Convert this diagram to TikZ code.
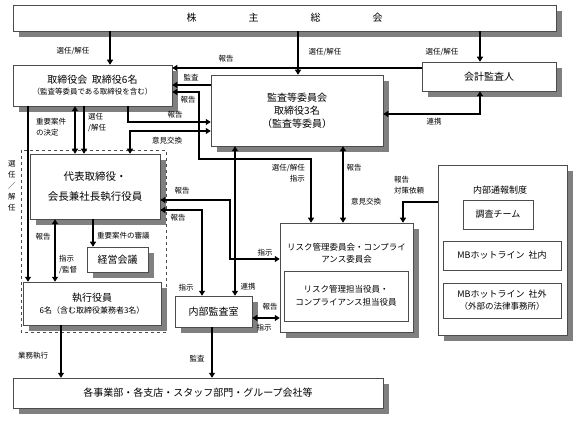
\documentclass[tikz,border=0pt]{standalone}
\usepackage{fontspec}
\setmainfont{Noto Sans CJK JP}
\usetikzlibrary{arrows.meta}
\usetikzlibrary{shadows}

\begin{document}
\begin{tikzpicture}[x=1pt,y=-1pt,
    box/.style={draw=black!70, fill=white, line width=0.5pt, inner sep=0pt, align=center,
        font=\fontsize{10}{14}\selectfont,
        drop shadow={shadow xshift=6pt, shadow yshift=-6pt, fill=gray, opacity=1}},
    inbox/.style={draw=black!70, fill=white, line width=0.5pt, inner sep=0pt, align=center,
        font=\fontsize{9}{13}\selectfont},
    lbl/.style={font=\fontsize{7.5}{11}\selectfont, inner sep=0pt},
    arr/.style={line width=1.5pt, -{Triangle[length=5pt,width=6pt]}},
    dbl/.style={line width=1.5pt, {Triangle[length=5pt,width=6pt]}-{Triangle[length=5pt,width=6pt]}}]

    \useasboundingbox (0,0) rectangle (577,435);

    \draw[black!70, dashed, line width=0.6pt] (21,150) rectangle (166,332);

    \node[box, minimum width=543pt, minimum height=26pt] (agm) at (284.5,18)
        {株\hspace{52pt}主\hspace{52pt}総\hspace{52pt}会};
    \node[box, minimum width=159pt, minimum height=41pt] (board) at (92.5,85.5)
        {取締役会\ \ 取締役6名\\[-3pt]{\fontsize{7.5}{9}\selectfont（監査等委員である取締役を含む）}};
    \node[box, minimum width=172pt, minimum height=71pt] (audit) at (297,110.5)
        {監査等委員会\\[-1pt]取締役3名\\[-1pt]（監査等委員）};
    \node[box, minimum width=134pt, minimum height=29pt] (auditor) at (489,76.5) {会計監査人};
    \node[box, minimum width=130pt, minimum height=65pt, font=\fontsize{10.5}{20}\selectfont]
        (ceo) at (95,186.5) {代表取締役・\\会長兼社長執行役員};
    \node[box, minimum width=61pt, minimum height=25pt] (mgmt) at (117.5,259.5) {経営会議};
    \node[box, minimum width=138pt, minimum height=43pt] (exec) at (92,303.5)
        {執行役員\\[-2pt]{\fontsize{8}{10}\selectfont 6名（含む取締役兼務者3名）}};
    \node[box, minimum width=370pt, minimum height=30pt] (dept) at (198,393)
        {各事業部・各支店・スタッフ部門・グループ会社等};
    \node[box, minimum width=77pt, minimum height=31pt] (ia) at (213.5,311.5) {内部監査室};
    \node[box, minimum width=133pt, minimum height=109pt] (risk) at (346.5,277.5) {};
    \node[inbox, draw=none, font=\fontsize{8.5}{12}\selectfont] (risktitle) at (346.5,253)
        {リスク管理委員会・コンプライ\\アンス委員会};
    \node[inbox, minimum width=124pt, minimum height=50pt, font=\fontsize{8.5}{13}\selectfont]
        (riskin) at (346,296) {リスク管理担当役員・\\コンプライアンス担当役員};
    \node[box, minimum width=129pt, minimum height=170pt] (whistle) at (502.5,250) {};
    \node[inbox, draw=none] (whtitle) at (500,190) {内部通報制度};
    \node[inbox, minimum width=70pt, minimum height=29pt] (team) at (498,214.5) {調査チーム};
    \node[inbox, minimum width=118pt, minimum height=29pt] (hin) at (502,255.5) {MBホットライン\ \ 社内};
    \node[inbox, minimum width=118pt, minimum height=35pt, font=\fontsize{8.5}{12}\selectfont]
        (hout) at (502,300.5) {{\fontsize{9}{12}\selectfont MBホットライン\ \ 社外}\\（外部の法律事務所）};

    \draw[arr] (110,0 |- agm.south) -- (110,0 |- board.north);
    \draw[arr] (298,0 |- agm.south) -- (298,0 |- audit.north);
    \draw[arr] (480,0 |- agm.south) -- (480,0 |- auditor.north);
    \draw[arr] (auditor.west |- 0,68) -- (board.east |- 0,68);
    \draw[arr] (audit.west |- 0,85) -- (board.east |- 0,85);
    \draw[dbl] (board.east |- 0,92) -- (199,92) -- (199,159) -- (311,159) -- (311,0 |- risk.north);
    \draw[arr] (128,0 |- board.south) -- (128,122) -- (audit.west |- 0,122);
    \draw[dbl] (130,0 |- ceo.north) -- (130,131) -- (audit.west |- 0,131);
    \draw[dbl] (75,0 |- board.south) -- (75,0 |- ceo.north);
    \draw[arr] (84,0 |- board.south) -- (84,0 |- ceo.north);
    \draw[arr] (28,0 |- board.south) -- (28,0 |- exec.north);
    \draw[arr] (93,0 |- ceo.south) -- (93,0 |- mgmt.north);
    \draw[dbl] (55,0 |- ceo.south) -- (55,0 |- exec.north);
    \draw[arr] (61,0 |- exec.south) -- (61,0 |- dept.north);
    \draw[arr] (212,0 |- ia.south) -- (212,0 |- dept.north);
    \draw[dbl] (ceo.east |- 0,210) -- (202,210) -- (202,0 |- ia.north);
    \draw[dbl] (ceo.east |- 0,200) -- (230,200) -- (230,259) -- (risk.west |- 0,259);
    \draw[dbl] (235,0 |- audit.south) -- (235,0 |- ia.north);
    \draw[dbl] (ia.east |- 0,318) -- (risk.west |- 0,318);
    \draw[dbl] (343,0 |- audit.south) -- (343,0 |- risk.north);
    \draw[arr] (whistle.west |- 0,202) -- (403,202) -- (403,0 |- risk.north);
    \draw[dbl] (audit.east |- 0,114) -- (480,114) -- (480,0 |- auditor.south);

    \node[lbl] (l1) at (73,51) {選任/解任};
    \node[lbl] (l2) at (325,52) {選任/解任};
    \node[lbl] (l3) at (442,52) {選任/解任};
    \node[lbl] (l4) at (226,59) {報告};
    \node[lbl] (l5) at (191,78) {監査};
    \node[lbl] (l6) at (188,100) {報告};
    \node[lbl, anchor=east, align=right] (l7) at (305,173) {選任/解任\\指示};
    \node[lbl] (l8) at (175,115) {報告};
    \node[lbl] (l9) at (167,141) {意見交換};
    \node[lbl, anchor=west, align=left] (l10) at (36,127) {重要案件\\の決定};
    \node[lbl, anchor=west, align=left] (l11) at (88,123) {選任\\/解任};
    \node[lbl, align=center] (l12) at (12,186) {選\\任\\／\\解\\任};
    \node[lbl, anchor=west] (l13) at (97,236) {重要案件の審議};
    \node[lbl] (l14) at (43,237) {報告};
    \node[lbl, anchor=west, align=left] (l15) at (59,265) {指示\\/監督};
    \node[lbl] (l16) at (33,356) {業務執行};
    \node[lbl] (l17) at (197,359) {監査};
    \node[lbl] (l18) at (178,218) {報告};
    \node[lbl] (l19) at (186,288) {指示};
    \node[lbl] (l20) at (182,191) {報告};
    \node[lbl] (l21) at (265,253) {指示};
    \node[lbl] (l22) at (248,287) {連携};
    \node[lbl] (l23) at (270,307) {報告};
    \node[lbl] (l24) at (264,328) {指示};
    \node[lbl] (l25) at (354,168) {報告};
    \node[lbl] (l26) at (366,202) {意見交換};
    \node[lbl, anchor=west, align=left] (l27) at (394,185) {報告\\対策依頼};
    \node[lbl] (l28) at (434,122) {連携};

\end{tikzpicture}
\end{document}
